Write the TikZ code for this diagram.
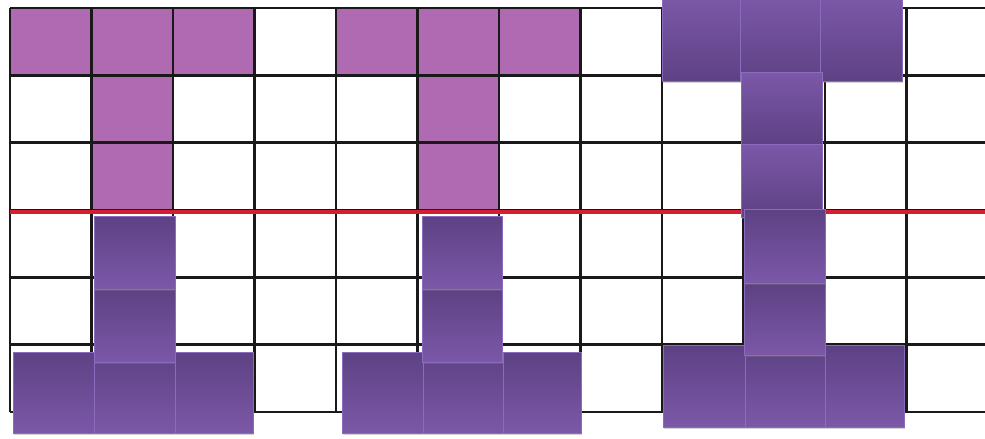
\documentclass[tikz,border=0pt]{standalone}
\usepackage{tikz}
\usetikzlibrary{shadows}
\definecolor{PinkCell}{RGB}{175,106,178}
\definecolor{TileDark}{RGB}{93,65,132}
\definecolor{TileLight}{RGB}{124,88,168}
\definecolor{TileEdge}{RGB}{138,108,188}
\definecolor{CutRed}{RGB}{212,30,50}

\begin{document}
\begin{tikzpicture}[x=0.03cm, y=-0.03cm,
    gridline/.style={black!90, line width=2.2pt},
    tileup/.style={top color=TileLight, bottom color=TileDark, draw=TileEdge, line width=0.6pt,
      drop shadow={shadow xshift=0.8pt, shadow yshift=-1.5pt, opacity=0.35}},
    tiledown/.style={top color=TileDark, bottom color=TileLight, draw=TileEdge, line width=0.6pt,
      drop shadow={shadow xshift=0.8pt, shadow yshift=-1.5pt, opacity=0.35}}]
      \useasboundingbox (0,0) rectangle (985,438);
      \clip (0,0) rectangle (985,438);

      % flat T shapes on the grid
      \foreach \c/\r in {0/0, 1/0, 2/0, 1/1, 1/2, 4/0, 5/0, 6/0, 5/1, 5/2}
        \fill[PinkCell] ({10+81.5*\c},{8+67.33*\r}) rectangle ++(81.5,67.33);

      % grid
      \foreach \c in {0,...,11}
        \draw[gridline] ({10+81.5*\c},8) -- ({10+81.5*\c},412);
      \foreach \r in {0,...,6}
        \draw[gridline] (10,{8+67.33*\r}) -- (990,{8+67.33*\r});

      \draw[CutRed, line width=3.6pt] (10,212) -- (990,212);

      % mirrored tiles below the line
      \foreach \xa/\ya/\xb/\yb in {13/352/94/433, 94/352/175/433, 175/352/253/433,
          94/289/175/362, 94/216/175/289,
          342/352/423/433, 423/352/503/433, 503/352/581/433,
          422/289/502/362, 422/216/502/289}
        \fill[tiledown] (\xa,\ya) rectangle (\xb,\yb);

      % tall T on the right
      \foreach \xa/\ya/\xb/\yb in {662/-2/740/81, 740/-2/820/81, 820/-2/902/81,
          741/72/822/144, 741/144/822/217}
        \fill[tileup] (\xa,\ya) rectangle (\xb,\yb);
      \foreach \xa/\ya/\xb/\yb in {663/345/745/427, 745/345/825/427, 825/345/904/427,
          744/283/825/355, 744/209/825/283}
        \fill[tiledown] (\xa,\ya) rectangle (\xb,\yb);
    \end{tikzpicture}
\end{document}
